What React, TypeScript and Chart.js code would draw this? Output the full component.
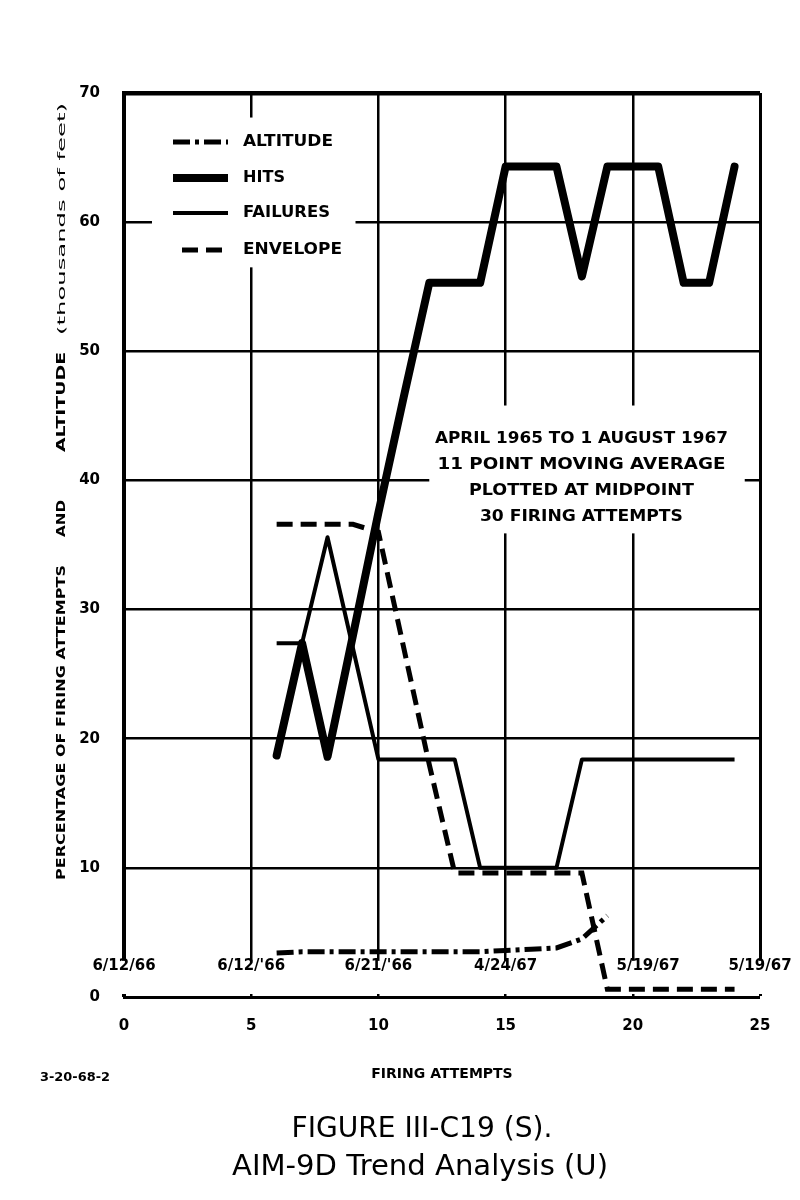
import { useEffect, useRef } from "react";
import { Chart, registerables } from "chart.js";

Chart.register(...registerables);

// ---- data ----
const attempts = [6, 7, 8, 9, 10, 11, 12, 13, 14, 15, 16, 17, 18, 19, 20, 21, 22, 23, 24];
const hits = [18.7, 27.4, 18.6, 28, 37.5, 46.5, 55.3, 55.3, 55.3, 64.3, 64.3, 64.3, 55.8, 64.3, 64.3, 64.3, 55.3, 55.3, 64.3];
const failures = [27.4, 27.4, 35.6, 27, 18.4, 18.4, 18.4, 18.4, 10, 10, 10, 10, 18.4, 18.4, 18.4, 18.4, 18.4, 18.4, 18.4];
const envelope = [36.6, 36.6, 36.6, 36.6, 36, 27, 18, 9.6, 9.6, 9.6, 9.6, 9.6, 9.6, 0.6, 0.6, 0.6, 0.6, 0.6, 0.6];
const altitudeAttempts = [6, 7, 8, 9, 10, 11, 12, 13, 14, 15, 16, 17, 18, 19];
const altitude = [3.4, 3.5, 3.5, 3.5, 3.5, 3.5, 3.5, 3.5, 3.5, 3.6, 3.7, 3.8, 4.5, 6.3];

const xTicks = [0, 5, 10, 15, 20, 25];
const yTicks = [0, 10, 20, 30, 40, 50, 60, 70];
const dateLabels = ["6/12/66", "6/12/'66", "6/21/'66", "4/24/67", "5/19/67", "5/19/67"];
const datePositions = [0, 5, 10, 15, 20.6, 25];
const noteLines = ["APRIL 1965 TO 1 AUGUST 1967", "11 POINT MOVING AVERAGE", "PLOTTED AT MIDPOINT", "30 FIRING ATTEMPTS"];
const seriesNames = ["ALTITUDE", "HITS", "FAILURES", "ENVELOPE"];
const xTitle = "FIRING ATTEMPTS";
const yTitleParts = ["PERCENTAGE OF FIRING ATTEMPTS", "AND", "ALTITUDE", "(thousands of feet)"];
const figureTitle = "FIGURE III-C19 (S).";
const figureSubtitle = "AIM-9D Trend Analysis (U)";
const figureCode = "3-20-68-2";

const FAMILY = "'DejaVu Sans', sans-serif";

function fitText(ctx: CanvasRenderingContext2D, text: string, x: number, y: number, width: number, font: string, align: CanvasTextAlign = "center", rotate = 0) {
  ctx.save();
  ctx.font = font;
  const w = ctx.measureText(text).width;
  const s = width / w;
  ctx.translate(x, y);
  if (rotate) ctx.rotate(rotate);
  ctx.scale(s, 1);
  ctx.textAlign = align;
  ctx.textBaseline = "middle";
  ctx.fillStyle = "#000";
  ctx.fillText(text, 0, 0);
  ctx.restore();
}

const decorPlugin = {
  id: "decor",
  beforeDatasetsDraw(chart: any) {
    const { ctx, chartArea } = chart;
    const xs = chart.scales.x;
    const ys = chart.scales.y;
    ctx.save();
    ctx.fillStyle = "#fff";
    const erase = (x1: number, x2: number, y1: number, y2: number) => {
      const X1 = xs.getPixelForValue(x1), X2 = xs.getPixelForValue(x2);
      const Y1 = ys.getPixelForValue(y1), Y2 = ys.getPixelForValue(y2);
      ctx.fillRect(Math.min(X1, X2), Math.min(Y1, Y2), Math.abs(X2 - X1), Math.abs(Y2 - Y1));
    };
    // gap behind the legend
    erase(1.1, 9.1, 56.5, 68.1);
    // gap behind the note
    erase(12.0, 24.4, 35.9, 45.8);
    // strip above the baseline where the dates sit
    const top = ys.getPixelForValue(2.8);
    ctx.fillRect(chartArea.left - 5, top, chartArea.right - chartArea.left + 10, chartArea.bottom - 3 - top);
    ctx.restore();
  },
  afterDraw(chart: any) {
    const { ctx, chartArea } = chart;
    const xs = chart.scales.x;
    const L = chartArea.left, T = chartArea.top, B = chartArea.bottom;

    // legend
    const rows = [49, 85, 120, 157];
    const widths = [90, 42, 87, 99];
    chart.data.datasets.forEach((ds: any, i: number) => {
      const y = T + rows[i];
      const x1 = L + (i === 3 ? 58 : 49);
      const x2 = L + 104;
      ctx.save();
      ctx.strokeStyle = "#000";
      ctx.lineWidth = ds.borderWidth;
      ctx.setLineDash(ds.borderDash || []);
      ctx.lineCap = "butt";
      ctx.beginPath();
      ctx.moveTo(x1, y);
      ctx.lineTo(x2, y);
      ctx.stroke();
      ctx.restore();
      fitText(ctx, ds.label, L + 119, y, widths[i], `bold 16px ${FAMILY}`, "left");
    });

    // note
    const noteX = xs.getPixelForValue(17.98);
    const noteY = [431, 457, 483, 509];
    const noteW = [293, 288, 225, 203];
    noteLines.forEach((t, i) => fitText(ctx, t, noteX, noteY[i], noteW[i], `bold 16px ${FAMILY}`));

    // date labels above the baseline
    ctx.save();
    ctx.fillStyle = "#000";
    ctx.font = `bold 15px ${FAMILY}`;
    ctx.textAlign = "center";
    ctx.textBaseline = "middle";
    dateLabels.forEach((d, i) => ctx.fillText(d, xs.getPixelForValue(datePositions[i]), B - 31));
    ctx.restore();

    // y-axis title
    const yx = 54;
    const spans = [[557, 872], [492, 529], [344, 444], [95, 327]];
    yTitleParts.forEach((t, i) => {
      const [a, b] = spans[i];
      const font = i === 3 ? `11px ${FAMILY}` : `bold 13px ${FAMILY}`;
      fitText(ctx, t, yx, (a + b) / 2, b - a, font, "center", -Math.PI / 2);
    });

    // figure code and captions
    fitText(ctx, figureCode, 32, 1070, 70, `bold 12px ${FAMILY}`, "left");
    fitText(ctx, figureTitle, 414, 1122, 261, `28px ${FAMILY}`);
    fitText(ctx, figureSubtitle, 412, 1160, 376, `28px ${FAMILY}`);
  },
};

export default function App() {
  const ref = useRef<HTMLCanvasElement | null>(null);

  useEffect(() => {
    if (!ref.current) return;
    const pts = (xs: number[], ys: number[]) => xs.map((x, i) => ({ x, y: ys[i] }));
    const tickFont = { family: FAMILY, size: 15, weight: "bold" as const };
    const chart = new Chart(ref.current, {
      type: "line",
      data: {
        datasets: [
          {
            label: seriesNames[0],
            data: pts(altitudeAttempts, altitude),
            borderColor: "#000",
            borderWidth: 5,
            borderDash: [17, 5, 4, 5],
            pointRadius: 0,
            tension: 0,
          },
          {
            label: seriesNames[1],
            data: pts(attempts, hits),
            borderColor: "#000",
            borderWidth: 8,
            borderJoinStyle: "round",
            borderCapStyle: "round",
            pointRadius: 0,
            tension: 0,
          },
          {
            label: seriesNames[2],
            data: pts(attempts, failures),
            borderColor: "#000",
            borderWidth: 4,
            borderJoinStyle: "round",
            pointRadius: 0,
            tension: 0,
          },
          {
            label: seriesNames[3],
            data: pts(attempts, envelope),
            borderColor: "#000",
            borderWidth: 5,
            borderDash: [16, 8],
            pointRadius: 0,
            tension: 0,
          },
        ],
      },
      options: {
        animation: false,
        responsive: false,
        devicePixelRatio: 1,
        layout: { padding: { left: 0, top: 85, right: 32, bottom: 105 } },
        plugins: {
          legend: { display: false },
          tooltip: { enabled: false },
        },
        scales: {
          x: {
            type: "linear",
            min: 0,
            max: 25,
            afterFit: (s: any) => {
              s.height = 90;
            },
            afterBuildTicks: (s: any) => {
              s.ticks = xTicks.map((v) => ({ value: v }));
            },
            grid: {
              color: "#000",
              drawTicks: false,
              lineWidth: (c: any) => (c.tick && c.tick.value === 0 ? 0 : c.tick && c.tick.value === 25 ? 3 : 2.5),
            },
            border: { display: true, color: "#000", width: 3 },
            ticks: { color: "#000", font: tickFont, padding: 20, maxRotation: 0 },
            title: {
              display: true,
              text: xTitle,
              color: "#000",
              font: { family: FAMILY, size: 14, weight: "bold" },
              padding: { top: 0, bottom: 4 },
            },
          },
          y: {
            type: "linear",
            min: 0,
            max: 70,
            afterFit: (s: any) => {
              s.width = 116;
            },
            afterBuildTicks: (s: any) => {
              s.ticks = yTicks.map((v) => ({ value: v }));
            },
            grid: {
              color: "#000",
              drawTicks: false,
              lineWidth: (c: any) => (c.tick && c.tick.value === 0 ? 0 : c.tick && c.tick.value === 70 ? 4.5 : 2.5),
            },
            border: { display: true, color: "#000", width: 4 },
            ticks: { color: "#000", font: tickFont, padding: 24 },
          },
        },
      },
      plugins: [decorPlugin],
    });
    return () => chart.destroy();
  }, []);

  return (
    <div style={{ width: 784, height: 1184, background: "#fff" }}>
      <canvas ref={ref} width={784} height={1184} style={{ display: "block" }} />
    </div>
  );
}
